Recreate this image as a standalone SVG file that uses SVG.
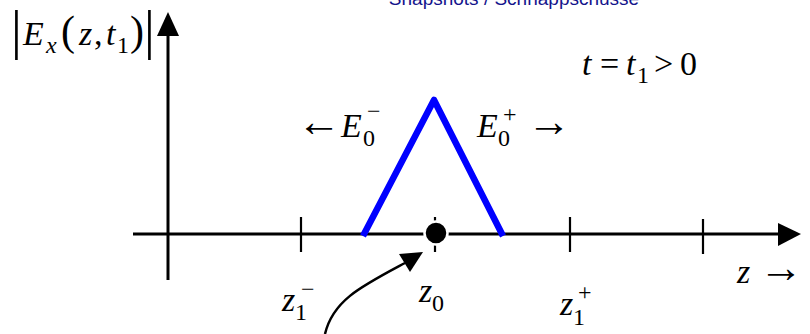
<svg xmlns="http://www.w3.org/2000/svg" width="810" height="334" viewBox="0 0 810 334">
<style>
.i{font-style:italic}
.ax{stroke:#000;stroke-width:3;fill:none}
.tk{stroke:#000;stroke-width:2.2}
</style>
<rect width="810" height="334" fill="#fff"/>
<text x="514" y="5" text-anchor="middle" font-family="Liberation Sans" font-size="19" fill="#14148c">Snapshots / Schnappschüsse</text>
<g id="axes">
<line class="ax" x1="168" y1="34" x2="168" y2="280"/>
<polygon points="168,12 157,36 179,36" fill="#000"/>
<line class="ax" x1="133" y1="234" x2="780" y2="234"/>
<polygon points="801,234 778,223 778,246" fill="#000"/>
<line class="tk" x1="301" y1="217" x2="301" y2="252"/>
<line class="tk" x1="435" y1="217" x2="435" y2="252"/>
<line class="tk" x1="570" y1="217" x2="570" y2="252"/>
<line class="tk" x1="703" y1="219" x2="703" y2="254"/>
</g>
<g id="pulse">
<polyline points="363,236 434,100 503,236" fill="none" stroke="#0000ff" stroke-width="6.5" stroke-linejoin="round"/>
</g>
<g id="dot">
<circle cx="436" cy="233" r="11.5" fill="#000" stroke="#fff" stroke-width="2.5"/>
</g>
<g id="connectors">
<path d="M325,334 C333,300 362,286 405,263" fill="none" stroke="#000" stroke-width="2.5"/>
<polygon points="423,252 399,254 410,272" fill="#000"/>
</g>
<g id="ylabel">
<text font-family="Liberation Serif" font-size="34"><tspan x="11" y="48" font-size="54">|</tspan><tspan class="i" x="23" y="45">E</tspan><tspan class="i" x="46" y="53" font-size="24">x</tspan><tspan x="61" y="45" font-size="42">(</tspan><tspan class="i" x="79" y="45">z</tspan><tspan x="94" y="45">,</tspan><tspan class="i" x="106" y="45">t</tspan><tspan x="117" y="53" font-size="24">1</tspan><tspan x="130" y="45" font-size="42">)</tspan><tspan x="144" y="48" font-size="54">|</tspan></text>
</g>
<g id="tlabel">
<text font-family="Liberation Serif" font-size="34"><tspan class="i" x="582" y="75">t</tspan><tspan x="600" y="75">=</tspan><tspan class="i" x="626" y="75">t</tspan><tspan x="637" y="83" font-size="24">1</tspan><tspan x="654" y="75">&gt;</tspan><tspan x="680" y="75">0</tspan></text>
</g>
<g id="eminus">
<text x="297" y="136" font-family="Liberation Serif" font-size="44">←</text>
<text font-family="Liberation Serif" font-size="34"><tspan class="i" x="341" y="137">E</tspan><tspan x="363" y="146" font-size="24">0</tspan><tspan x="367" y="119" font-size="24">−</tspan></text>
</g>
<g id="eplus">
<text font-family="Liberation Serif" font-size="34"><tspan class="i" x="477" y="137">E</tspan><tspan x="498" y="146" font-size="24">0</tspan><tspan x="503" y="122" font-size="24">+</tspan></text>
<text x="527" y="136" font-family="Liberation Serif" font-size="44">→</text>
</g>
<g id="z1m">
<text font-family="Liberation Serif" font-size="34"><tspan class="i" x="282" y="311">z</tspan><tspan x="295" y="320" font-size="24">1</tspan><tspan x="301" y="297" font-size="24">−</tspan></text>
</g>
<g id="z0">
<text font-family="Liberation Serif" font-size="34"><tspan class="i" x="419" y="302">z</tspan><tspan x="432" y="311" font-size="24">0</tspan></text>
</g>
<g id="z1p">
<text font-family="Liberation Serif" font-size="34"><tspan class="i" x="560" y="315">z</tspan><tspan x="573" y="325" font-size="24">1</tspan><tspan x="578" y="300" font-size="24">+</tspan></text>
</g>
<g id="zarrow">
<text class="i" x="737" y="283" font-family="Liberation Serif" font-size="34">z</text>
<text x="759" y="282" font-family="Liberation Serif" font-size="44">→</text>
</g>
</svg>
